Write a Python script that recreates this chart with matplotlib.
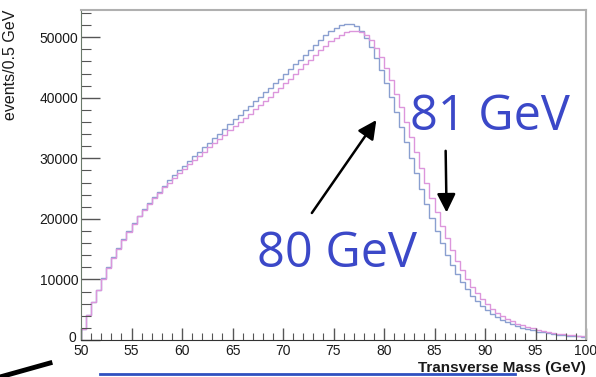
import numpy as np
import matplotlib
matplotlib.use("Agg")
import matplotlib.pyplot as plt
import matplotlib.transforms as mtransforms
from matplotlib.lines import Line2D
from matplotlib.ticker import MultipleLocator

# transverse mass histogram, 0.5 GeV bins from 50 to 100 GeV
bin_lo = 50.0
bin_hi = 100.0

w80_counts = [
    1800, 4200, 6300, 8300, 10200, 12000, 13700, 15200, 16600, 18000,
    19300, 20500, 21600, 22600, 23600, 24500, 25500, 26400, 27200, 28000,
    28800, 29600, 30400, 31100, 31800, 32600, 33300, 34100, 34900, 35700,
    36500, 37200, 38000, 38700, 39400, 40100, 40900, 41600, 42400, 43100,
    43900, 44700, 45500, 46300, 47100, 47900, 48700, 49500, 50300, 51000,
    51600, 52000, 52200, 52200, 51800, 51000, 49900, 48400, 46600, 44600,
    42400, 40100, 37700, 35200, 32700, 30100, 27500, 25000, 22500, 20200,
    18000, 16000, 14100, 12400, 10900, 9600, 8400, 7300, 6400, 5600,
    4900, 4300, 3800, 3300, 2900, 2600, 2300, 2000, 1800, 1600,
    1400, 1250, 1100, 1000, 900, 800, 720, 650, 580, 520,
]

w81_counts = [
    1800, 4100, 6200, 8200, 10100, 11900, 13600, 15100, 16500, 17900,
    19200, 20400, 21500, 22500, 23400, 24300, 25200, 26000, 26800, 27500,
    28300, 29000, 29700, 30400, 31100, 31800, 32500, 33200, 33900, 34600,
    35300, 36000, 36700, 37400, 38100, 38800, 39500, 40200, 40900, 41600,
    42400, 43100, 43900, 44700, 45500, 46300, 47100, 47900, 48600, 49300,
    49900, 50400, 50800, 51000, 51100, 50900, 50400, 49500, 48300, 46700,
    44900, 42900, 40700, 38400, 36000, 33500, 31000, 28400, 25900, 23400,
    21100, 18900, 16800, 14900, 13100, 11500, 10100, 8800, 7700, 6700,
    5900, 5200, 4500, 4000, 3500, 3100, 2700, 2400, 2100, 1900,
    1700, 1500, 1300, 1200, 1050, 950, 850, 760, 680, 600,
]

edges = np.linspace(bin_lo, bin_hi, len(w80_counts) + 1)

plt.rcParams["font.family"] = ["Liberation Sans", "DejaVu Sans"]

fig = plt.figure(figsize=(5.96, 3.77), dpi=100)
ax = fig.add_axes([81 / 596, 1 - 340 / 377, 505 / 596, 330 / 377])

ax.stairs(w80_counts, edges, color="#8a9fd0", lw=1.0)
ax.stairs(w81_counts, edges, color="#dc96dc", lw=1.0)

ax.set_xlim(bin_lo, bin_hi)
ax.set_ylim(0, 54500)

# ROOT-like axes: ticks inside, gray frame on top/right
ax.xaxis.set_major_locator(MultipleLocator(5))
ax.xaxis.set_minor_locator(MultipleLocator(1))
ax.yaxis.set_major_locator(MultipleLocator(10000))
ax.yaxis.set_minor_locator(MultipleLocator(2000))
ax.tick_params(which="both", direction="in", top=False, right=False,
               labelsize=10, labelcolor="#1a1a1a", color="#555555")
ax.tick_params(axis="x", which="major", length=9, width=1, pad=3)
ax.tick_params(axis="x", which="minor", length=5, width=0.8)
ax.tick_params(axis="y", which="major", length=14, width=1, pad=2)
ax.tick_params(axis="y", which="minor", length=7, width=0.8)
for side in ["top", "right"]:
    ax.spines[side].set_color("#b0b0b0")
    ax.spines[side].set_linewidth(1.5)
ax.spines["left"].set_color("#6a7a6a")
ax.spines["bottom"].set_color("#333333")

# lift the "0" on the y axis a little so it clears the "50" below
fig.canvas.draw()
for lab in ax.get_yticklabels():
    if lab.get_text() == "0":
        lab.set_transform(lab.get_transform() +
                          mtransforms.ScaledTranslation(-2 / 100, 4 / 100,
                                                        fig.dpi_scale_trans))

ax.set_ylabel("events/0.5 GeV", fontsize=11.5, color="#1a1a1a")
ax.yaxis.set_label_coords(-0.125, 1.0)
ax.yaxis.label.set_ha("right")
ax.set_xlabel("Transverse Mass (GeV)", fontsize=11, color="#1a1a1a",
              fontweight="bold")
ax.xaxis.set_label_coords(1.0, -0.064)
ax.xaxis.label.set_ha("right")

# annotations
blue = "#3b48c8"
ax.text(67.4, 12050, "80 GeV", fontsize=35, color=blue, family="Open Sans",
        ha="left", va="baseline")
ax.text(82.6, 34700, "81 GeV", fontsize=35, color=blue, family="Open Sans",
        ha="left", va="baseline")
ax.annotate("", xy=(79.4, 36700), xytext=(72.7, 20600),
            arrowprops=dict(arrowstyle="-|>", color="black", lw=1.8,
                            mutation_scale=28))
ax.annotate("", xy=(86.2, 20600), xytext=(86.1, 31700),
            arrowprops=dict(arrowstyle="-|>", color="black", lw=1.8,
                            mutation_scale=28))

# stray marks from the slide below the plot
fig.add_artist(Line2D([0 / 596, 50 / 596], [1 - 377 / 377, 1 - 363 / 377],
                      color="black", lw=3.5))
fig.add_artist(Line2D([100 / 596, 515 / 596], [1 - 374 / 377, 1 - 374 / 377],
                      color="#3050c0", lw=2))

fig.savefig("out.png", dpi=100)
